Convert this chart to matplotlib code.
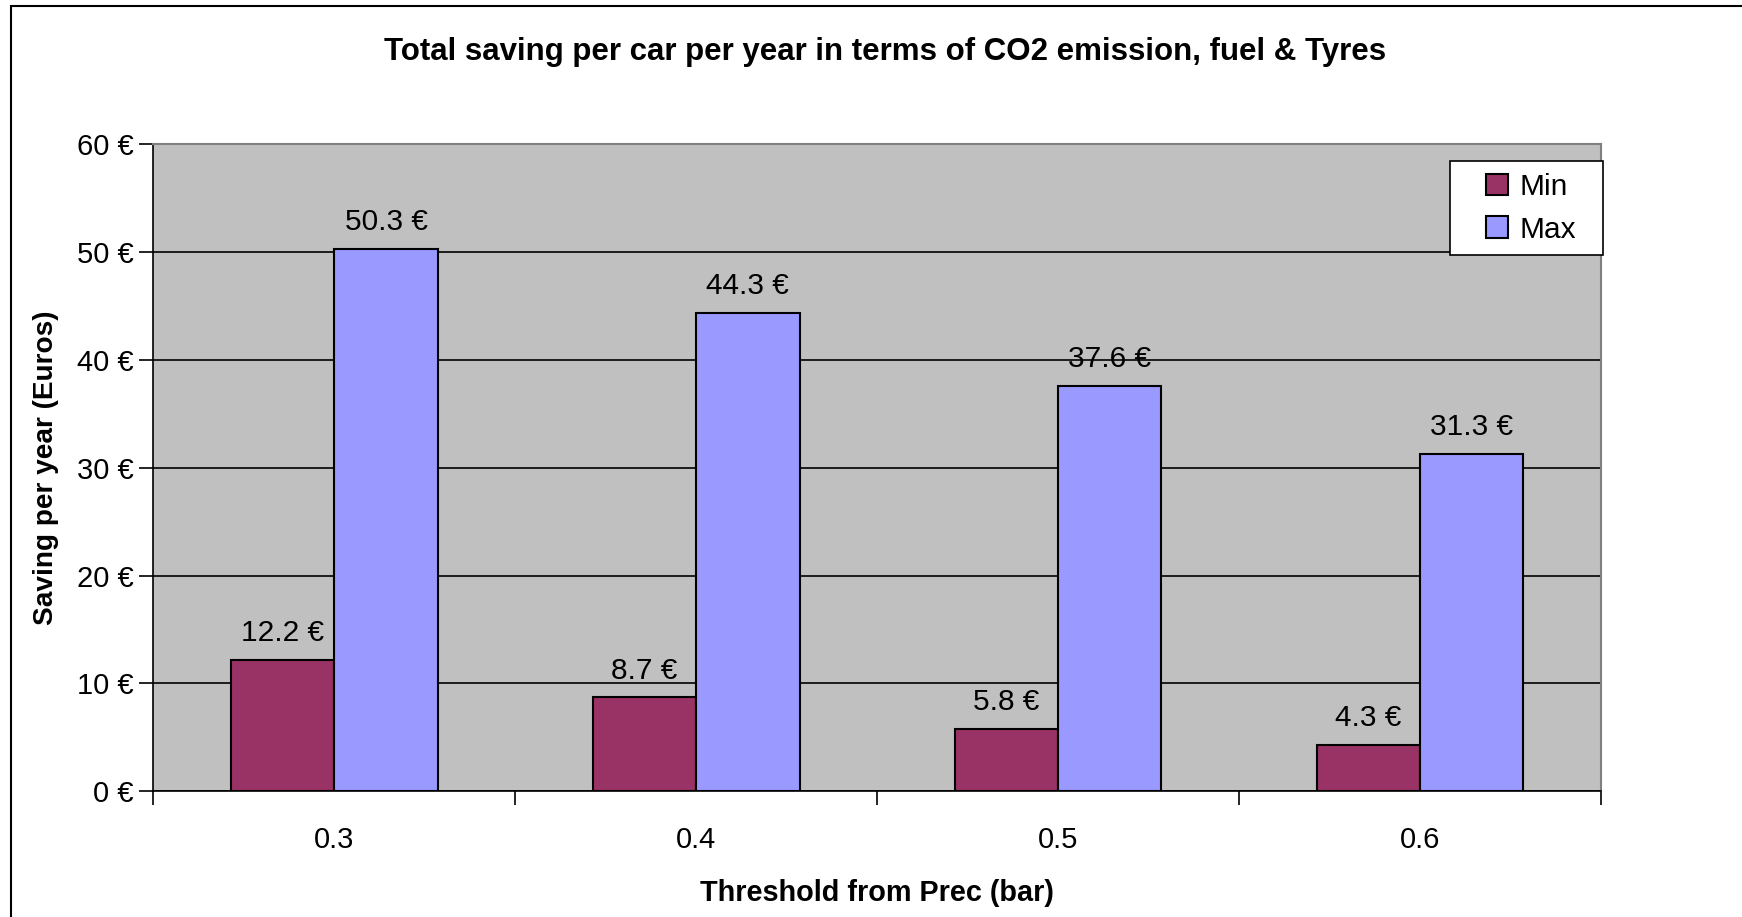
import matplotlib.pyplot as plt
import numpy as np
from matplotlib.patches import Rectangle

plt.rcParams["font.family"] = ["Liberation Sans", "DejaVu Sans"]

# Data
thresholds = ["0.3", "0.4", "0.5", "0.6"]
min_saving = [12.2, 8.7, 5.8, 4.3]
max_saving = [50.3, 44.3, 37.6, 31.3]

MIN_COLOR = "#993366"
MAX_COLOR = "#9999FF"
PLOT_BG = "#C0C0C0"

fig = plt.figure(figsize=(17.42, 9.17), dpi=100, facecolor="white")
ax = fig.add_axes([0.088, 0.137, 0.831, 0.706])
ax.set_facecolor(PLOT_BG)

# Outer chart border (only left and top visible, as in the source)
fig.patches.append(Rectangle((0.0065, -0.02), 1.1, 1.0135, transform=fig.transFigure,
                             fill=False, edgecolor="black", linewidth=1.5))

x = np.arange(len(thresholds))
w = 1 / 3.5
b1 = ax.bar(x - w / 2, min_saving, w, color=MIN_COLOR, edgecolor="black", linewidth=1.5,
            label="Min", zorder=3)
b2 = ax.bar(x + w / 2, max_saving, w, color=MAX_COLOR, edgecolor="black", linewidth=1.5,
            label="Max", zorder=3)

for bars, vals in ((b1, min_saving), (b2, max_saving)):
    for bar, v in zip(bars, vals):
        ax.text(bar.get_x() + bar.get_width() / 2, v + 1.2, f"{v:.1f} €",
                ha="center", va="bottom", fontsize=21.5, color="black", zorder=4)

ax.set_xlim(-0.5, 3.5)
ax.set_ylim(0, 60)
ax.set_yticks(range(0, 61, 10))
ax.set_yticklabels([f"{t} €" for t in range(0, 61, 10)])
ax.yaxis.grid(True, color="black", linewidth=1.2, zorder=1)
ax.set_axisbelow(True)

# category labels centered, tick marks at boundaries
ax.set_xticks(x)
ax.set_xticklabels(thresholds)
ax.tick_params(axis="x", length=0, pad=25, labelsize=21)
ax.set_xticks(np.arange(-0.5, 4, 1), minor=True)
ax.tick_params(axis="x", which="minor", length=10, width=1.2, direction="out")
ax.tick_params(axis="y", length=10, width=1.2, direction="out", labelsize=21, pad=4)

for s in ("top", "right"):
    ax.spines[s].set_color("#808080")
    ax.spines[s].set_linewidth(1.5)
ax.spines["left"].set_color("black")
ax.spines["bottom"].set_color("black")
ax.spines["left"].set_linewidth(1.2)
ax.spines["bottom"].set_linewidth(1.2)

ax.set_xlabel("Threshold from Prec (bar)", fontsize=20.8, fontweight="bold", labelpad=18)
ax.set_ylabel("Saving per year (Euros)", fontsize=20.2, fontweight="bold", labelpad=13)
fig.text(0.508, 0.943, "Total saving per car per year in terms of CO2 emission, fuel & Tyres",
         ha="center", va="center", fontsize=22.5, fontweight="bold")

# legend box drawn separately so its padding matches the source
ax.add_patch(Rectangle((0.8956, 0.8285), 0.1059, 0.1455, transform=ax.transAxes,
                       facecolor="white", edgecolor="black", linewidth=1.2,
                       zorder=5, clip_on=False))
leg = ax.legend(loc="center", bbox_to_anchor=(0.952, 0.901), fontsize=21.5,
                frameon=False, borderpad=0, handlelength=0.72, handleheight=0.72,
                handletextpad=0.4, labelspacing=0.5, borderaxespad=0)
leg.set_zorder(6)

fig.savefig("out.png", dpi=100, facecolor="white")
